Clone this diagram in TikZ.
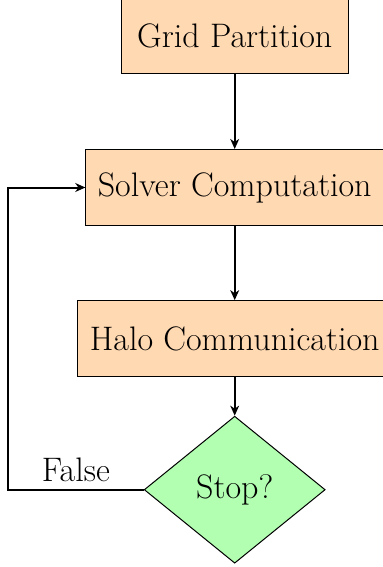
\documentclass[tikz,border=0pt]{standalone}
\usepackage{fontspec}
\usetikzlibrary{shapes.geometric,arrows.meta}
\begin{document}
\begin{tikzpicture}[x=0.5pt,y=-0.5pt,
  every node/.style={font=\fontsize{17}{20}\selectfont},
  process/.style={rectangle,draw,line width=0.5pt,fill=orange!30,
    inner sep=6pt,minimum width=113.5pt,minimum height=38pt},
  decision/.style={diamond,draw,line width=0.5pt,fill=green!30,
    inner sep=0pt,minimum width=90.5pt,minimum height=73.5pt},
  flow/.style={line width=1pt,-{Stealth[length=5pt,width=4.4pt,inset=1.5pt]}}]
  \useasboundingbox (0,0) rectangle (383,567);
  \begin{scope}
  \clip (0,0) rectangle (383,567);
  \node[process]  (grid)   at (234.7,36)    {Grid Partition};
  \node[process]  (solver) at (234.7,187.5) {Solver Computation};
  \node[process]  (halo)   at (234.7,338.7) {Halo Communication};
  \node[decision] (stop)   at (234.7,489.7) {Stop?};
  \coordinate (back) at (8,489.7);
  \draw[flow] (grid) -- (solver);
  \draw[flow] (solver) -- (halo);
  \draw[flow] (halo) -- (stop);
  \draw[flow] (stop.west) -- node[above] {False} (back) |- (solver.west);
  \end{scope}
\end{tikzpicture}
\end{document}
